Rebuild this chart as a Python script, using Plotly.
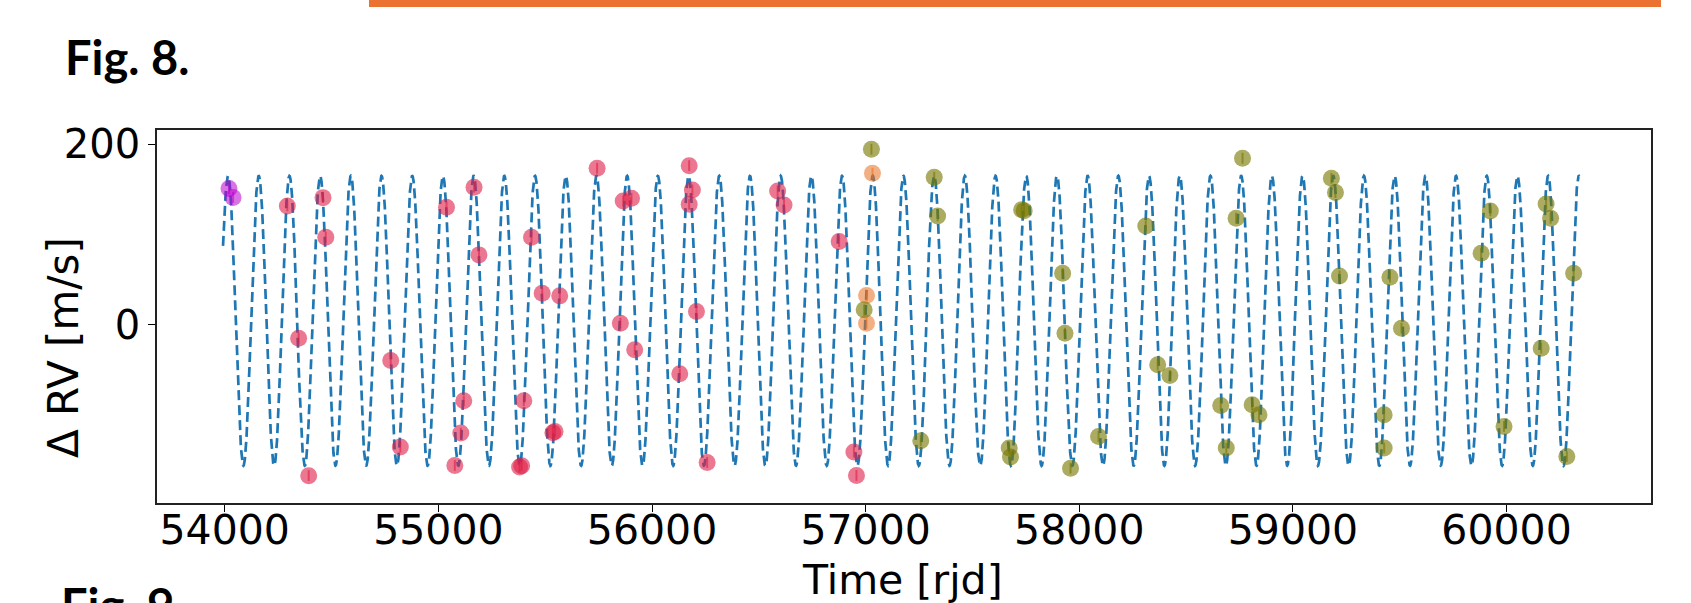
import numpy as np
import plotly.graph_objects as go

# ---------------- data ----------------
# Keplerian model curve (parameters)
RV_PERIOD = 143.7        # days between successive peaks
RV_SEMI_AMP = 160.5      # m/s
RV_OFFSET = 4.5          # m/s
RV_T_PEAK = 54015.5      # time of first maximum
CURVE_START = 53992.0
CURVE_END = 60340.0

# instrument 1 (magenta)
t_mag = [54020, 54039]
rv_mag = [151, 141]

# instrument 2 (crimson)
t_red = [54293, 54346, 54393, 54460, 54473, 54777, 54822, 55038, 55077, 55105,
         55119, 55167, 55190, 55380, 55390, 55400, 55436, 55486, 55536, 55546,
         55568, 55743, 55852, 55865, 55904, 55919, 56130, 56174, 56189, 56174,
         56208, 56258, 56588, 56618, 56876, 56945, 56957]
rv_red = [131.7, -14.8, -167, 140.9, 97, -39.5, -135.4, 130.2, -155.7, -119.9,
          -84.1, 152.4, 77.5, -157.5, -156, -84.1, 97, 35.1, -119.5, -118,
          32.1, 173.4, 1.8, 137.2, 140.2, -27.7, -54.2, 176.3, 149.4, 133.6,
          14.8, -152.4, 148.3, 132.8, 92.2, -140.9, -166.8]

# instrument 3 (orange)
t_org = [57004, 57004, 57032]
rv_org = [32.4, 1.8, 167.9]

# instrument 4 (olive)
t_olv = [56993, 57027, 57258, 57321, 57337, 57730, 57742, 57672, 57678, 57922,
         57933, 57959, 58090, 58311, 58367, 58424, 58662, 58688, 58734, 58764,
         58809, 58841, 59180, 59199, 59218, 59427, 59427, 59454, 59508, 59881,
         59924, 59988, 60162, 60185, 60206, 60282, 60314]
rv_olv = [16.6, 194.5, -128.4, 163.5, 120.6, 127.5, 126.5, -136.5, -146.4, 57.2,
          -9.2, -158.7, -123.6, 109.6, -44.3, -56.1, -89.3, -136.5, 118.1, 184.5,
          -88.5, -99.6, 162.3, 146.5, 54.2, -136.5, -99.6, 52.8, -3.7, 79.3,
          126.2, -112.5, -25.8, 133.9, 118.1, -145.8, 57.2]

RV_ERR = 6.0  # small error bars seen inside markers

x_ticks = [54000, 55000, 56000, 57000, 58000, 59000, 60000]
y_ticks = [0, 200]

# ---------------- figure geometry ----------------
W, H = 1691, 603
L, R, T, B = 157, 1651, 130, 503
PW, PH = R - L, B - T


def px(x):
    return (x - L) / PW


def py(y):
    return (B - y) / PH


fig = go.Figure()

t_model = np.arange(CURVE_START, CURVE_END + 0.25, 0.5)
rv_model = RV_OFFSET + RV_SEMI_AMP * np.cos(2 * np.pi * (t_model - RV_T_PEAK) / RV_PERIOD)
fig.add_trace(go.Scatter(
    x=t_model, y=rv_model, mode="lines",
    line=dict(color="#1f77b4", width=2.7, dash="10px,5px"),
    hoverinfo="skip", showlegend=False))

groups = [
    (t_mag, rv_mag, "rgba(185,0,205,0.55)"),
    (t_red, rv_red, "rgba(222,30,70,0.6)"),
    (t_org, rv_org, "rgba(232,110,30,0.55)"),
    (t_olv, rv_olv, "rgba(120,120,0,0.62)"),
]
for tx, ry, col in groups:
    fig.add_trace(go.Scatter(
        x=tx, y=ry, mode="markers",
        marker=dict(size=17, color=col, line=dict(width=0)),
        error_y=dict(type="constant", value=RV_ERR, color=col, thickness=2, width=0),
        showlegend=False))

tick_font = dict(family="DejaVu Sans", size=41, color="black")
label_font = dict(family="DejaVu Sans", size=42, color="black")

fig.update_xaxes(
    range=[53683, 60676], tickvals=x_ticks, ticktext=[str(v) for v in x_ticks],
    ticks="outside", ticklen=7, tickwidth=1.3, tickcolor="black",
    ticklabelstandoff=-17, automargin=False,
    showgrid=False, zeroline=False, showline=True, linecolor="#222", linewidth=1.6,
    mirror=True, tickfont=tick_font)
fig.update_yaxes(
    range=[-197.3, 215.8], tickvals=y_ticks, ticktext=[str(v) for v in y_ticks],
    ticks="outside", ticklen=7, tickwidth=1.3, tickcolor="black",
    automargin=False,
    showgrid=False, zeroline=False, showline=True, linecolor="#222", linewidth=1.6,
    mirror=True, tickfont=dict(family="DejaVu Sans", size=40, color="black"))

fig.update_layout(
    width=W, height=H, autosize=False,
    margin=dict(l=L, r=W - R, t=T, b=H - B, pad=0, autoexpand=False),
    paper_bgcolor="white", plot_bgcolor="white",
    showlegend=False,
)

# orange banner at the very top
fig.add_shape(type="rect", xref="paper", yref="paper",
              x0=px(369), x1=px(1661), y0=py(0), y1=py(7),
              fillcolor="#EC7232", line=dict(width=0), layer="above")

fig.add_annotation(text="<b>Fig. 8.</b>", xref="paper", yref="paper",
                   x=px(63), y=py(57), xanchor="left", yanchor="middle",
                   showarrow=False, font=dict(family="Lato", size=47, color="black"))
fig.add_annotation(text="<b>Fig. 9</b>", xref="paper", yref="paper",
                   x=px(59), y=py(605), xanchor="left", yanchor="middle",
                   showarrow=False, font=dict(family="Lato", size=47, color="black"))
fig.add_annotation(text="Δ RV [m/s]", xref="paper", yref="paper",
                   x=px(63), y=py(347), xanchor="center", yanchor="middle",
                   textangle=-90, showarrow=False, font=label_font)
fig.add_annotation(text="Time [rjd]", xref="paper", yref="paper",
                   x=px(902), y=py(580), xanchor="center", yanchor="middle",
                   showarrow=False, font=tick_font)

fig.write_html("out.html", config={"displayModeBar": False},
               post_script="document.body.style.margin='0';document.body.style.overflow='hidden';")
